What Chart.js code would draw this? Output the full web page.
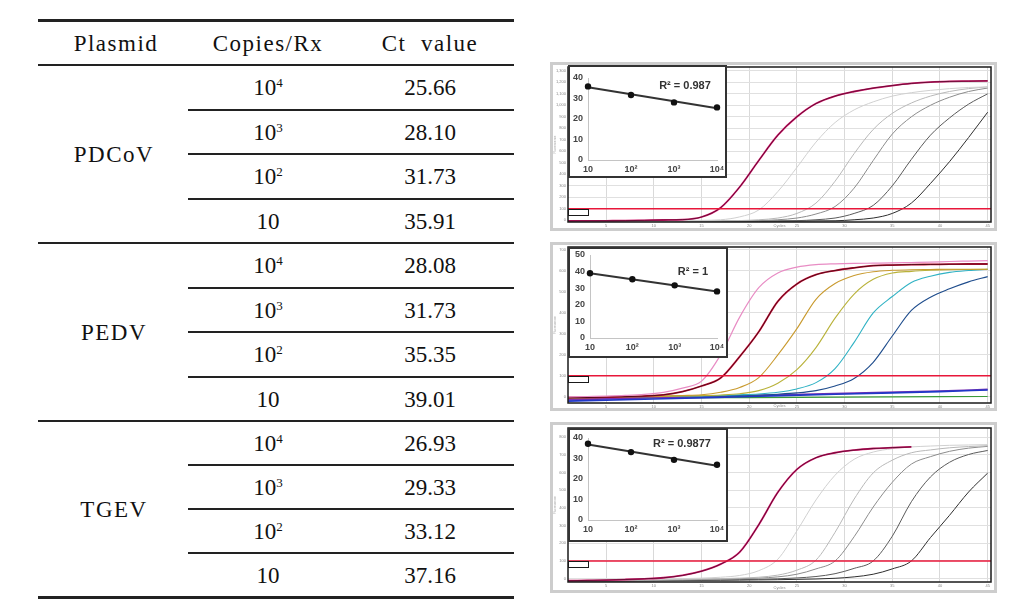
<!DOCTYPE html>
<html>
<head>
<meta charset="utf-8">
<script src="https://cdn.jsdelivr.net/npm/chart.js@4.4.1/dist/chart.umd.min.js"></script>
<style>
  body { margin: 0; background: #fff; width: 1029px; height: 609px; position: relative; overflow: hidden; font-family: 'Liberation Serif', serif; }
  .rule { position: absolute; background: #222; }
  .cell { position: absolute; font-size: 23px; color: #111; transform: translate(-50%, -50%); white-space: nowrap; line-height: 1; }
  .word { letter-spacing: 1.5px; }
  .cell .sup { font-size: 13px; vertical-align: top; line-height: 1; }
  .frame { position: absolute; border: 3px solid #cdcdcd; background: #fff; box-sizing: border-box; }
  .inset { position: absolute; border: 2px solid #333; background: #fff; box-sizing: border-box; }
  .r2 { position: absolute; font: bold 11px 'Liberation Sans', Arial, sans-serif; color: #333; white-space: nowrap; transform: translate(-50%, -50%); }
  canvas { position: absolute; left: 0; top: 0; }
</style>
</head>
<body>
<script>
// ---- table data ----
const plasmids = ['PDCoV', 'PEDV', 'TGEV'];
const copyExp  = ['4', '3', '2', ''];          // 10^4, 10^3, 10^2, 10
const ctPDCoV  = [25.66, 28.10, 31.73, 35.91];
const ctPEDV   = [28.08, 31.73, 35.35, 39.01];
const ctTGEV   = [26.93, 29.33, 33.12, 37.16];
const r2Labels = ['R\u00b2 = 0.987', 'R\u00b2 = 1', 'R\u00b2 = 0.9877'];

// ---- amplification curves (fluorescence read at every 2nd cycle) ----
const CYCLES = [1,3,5,7,9,11,13,15,17,19,21,23,25,27,29,31,33,35,37,39,41,43,45];
const X_TICKS = [5,10,15,20,25,30,35,40,45];

const p1a = [-6,-5,-4,-3,0,3,6,29,110,290,520,740,900,1015,1080,1120,1150,1172,1190,1202,1208,1210,1212];
const p1b = [-8,-8,-7,-6,-5,-4,-2,0,5,30,90,250,460,680,850,960,1030,1080,1110,1130,1145,1155,1160];
const p1c = [-10,-10,-9,-9,-8,-7,-6,-5,-4,-2,5,20,60,150,340,580,790,930,1020,1080,1120,1145,1160];
const p1d = [-12,-12,-11,-11,-10,-9,-8,-7,-6,-5,-3,5,20,55,120,280,520,750,900,1000,1070,1120,1150];
const p1e = [-14,-14,-13,-13,-12,-12,-11,-10,-9,-8,-6,-5,-3,5,20,60,130,300,530,740,890,1010,1100];
const p1f = [-15,-15,-15,-14,-14,-13,-13,-12,-11,-10,-9,-8,-7,-5,-4,5,20,60,150,320,510,720,940];

const p2a = [0,2,4,7,12,22,42,75,200,380,520,590,618,630,634,636,637,638,640,642,645,647,649];
const p2b = [-4,-3,-1,1,4,10,25,52,90,192,310,455,538,582,602,615,625,628,630,631,632,633,633];
const p2c = [-2,-1,0,2,3,5,7,10,22,45,92,200,325,465,540,578,596,603,606,607,608,608,608];
const p2d = [-3,-2,-1,0,1,2,4,6,9,15,30,65,130,235,375,490,560,590,598,603,606,607,608];
const p2e = [-2,-1,0,1,2,3,4,5,7,10,14,22,38,68,135,260,400,478,545,575,593,602,608];
const p2f = [-3,-2,-1,0,1,2,3,4,5,7,9,13,19,30,52,88,165,290,412,475,515,548,573];
const NTC_CYCLES = [1,10,20,30,40,45];
const ntcPurple = [-14,-4,6,17,28,36];
const ntcBlue   = [-20,-10,2,14,25,33];
const ntcGreen  = [-6,-5,-3,-1,1,2];

const p3a = [-12,-10,-8,-5,-1,5,18,42,82,150,305,488,618,684,712,727,736,741,745,null,null,null,null];
const p3b = [-10,-9,-8,-6,-4,-2,0,3,8,18,45,110,270,445,585,675,716,735,745,750,754,756,758];
const p3c = [-12,-11,-10,-9,-8,-6,-4,-2,0,3,8,20,48,105,262,450,598,670,712,728,740,747,752];
const p3d = [-14,-13,-12,-11,-10,-9,-7,-5,-3,0,3,10,25,55,100,237,405,545,648,690,720,738,748];
const p3e = [-14,-14,-13,-13,-12,-11,-10,-9,-8,-6,-4,-1,4,12,28,58,100,240,435,575,658,702,725];
const p3f = [-15,-15,-14,-14,-13,-12,-11,-10,-9,-8,-7,-6,-4,-2,2,10,25,55,100,232,358,490,597];

const thresholds = [101, 101, 100];
const yTicks1 = [0,100,200,300,400,500,600,700,800,900,1000,1100,1200,1300];
const yTicks2 = [0,100,200,300,400,500,600,700];
const yTicks3 = [0,100,200,300,400,500,600,700,800];

// ---- standard curve inset ----
const insetX = [1, 2, 3, 4];
const insetLabels = ['10', '10\u00b2', '10\u00b3', '10\u2074'];

// ---------------- table ----------------
function rule(l, t, w, h) {
  const d = document.createElement('div');
  d.className = 'rule';
  Object.assign(d.style, { left: l + 'px', top: t + 'px', width: w + 'px', height: h + 'px' });
  document.body.appendChild(d);
}
function cell(html, x, y, cls) {
  const d = document.createElement('div');
  d.className = 'cell' + (cls ? ' ' + cls : '');
  d.innerHTML = html;
  d.style.left = x + 'px'; d.style.top = y + 'px';
  document.body.appendChild(d);
}

const TL = 38, TR = 514, colP = 116, colC = 268, colV = 430;
rule(TL, 19, TR - TL, 3);
cell('Plasmid', colP, 43, 'word');
cell('Copies/Rx', colC, 43, 'word');
cell('Ct&nbsp;&nbsp;value', colV, 43, 'word');
rule(TL, 64, TR - TL, 2);

const groupTops = [65, 243, 421];
const rowH = [44.5, 44.5, 44];
const ctGroups = [ctPDCoV, ctPEDV, ctTGEV];
plasmids.forEach((name, g) => {
  const top = groupTops[g], h = rowH[g];
  cell(name, colP - 2, top + 2 * h, 'word');
  copyExp.forEach((e, r) => {
    const cy = top + h * (r + 0.5);
    cell('10' + (e ? '<span class="sup">' + e + '</span>' : ''), colC, cy);
    cell(ctGroups[g][r].toFixed(2), colV, cy);
    if (r > 0) rule(188, Math.round(top + h * r) - 1, TR - 188, 2);
  });
  if (g < 2) rule(TL, groupTops[g + 1] - 1, TR - TL, 2);
});
rule(TL, 596, TR - TL, 3);

// ---------------- charts ----------------
const framePlugin = {
  id: 'frame',
  afterDraw(chart, args, o) {
    const { ctx, chartArea: a } = chart;
    ctx.save();
    ctx.strokeStyle = '#1a1a1a';
    ctx.lineWidth = 1.5;
    ctx.strokeRect(a.left, a.top, a.right - a.left, a.bottom - a.top);
    const y = Math.round(chart.scales.y.getPixelForValue(o.threshold));
    ctx.lineWidth = 1;
    ctx.fillStyle = '#fff';
    ctx.fillRect(a.left + 1, y + 1, 19, 5);
    ctx.strokeRect(a.left + 0.5, y + 0.5, 20, 6);
    ctx.restore();
  }
};

function curve(xs, ys, color, width) {
  return {
    data: xs.map((x, i) => ({ x: x, y: ys[i] })),
    borderColor: color, borderWidth: width || 1,
    pointRadius: 0, fill: false, cubicInterpolationMode: 'monotone'
  };
}

function panel(p) {
  const fr = document.createElement('div');
  fr.className = 'frame';
  Object.assign(fr.style, { left: '550px', top: p.top + 'px', width: '447px', height: p.h + 'px' });
  const cv = document.createElement('canvas');
  cv.width = 441; cv.height = p.h - 6;
  cv.style.width = '441px'; cv.style.height = (p.h - 6) + 'px';
  fr.appendChild(cv);
  document.body.appendChild(fr);

  // drawn bottom-to-top
  const layers = p.curves.slice();
  layers.push(curve([1, 45.35], [p.thr, p.thr], '#e8173a', 1.6));
  const datasets = layers.reverse();

  new Chart(cv, {
    type: 'line',
    data: { datasets: datasets },
    options: {
      responsive: false, animation: false, devicePixelRatio: 1,
      layout: { padding: { top: p.padTop, right: 3, left: 0, bottom: 0 } },
      plugins: { legend: { display: false }, tooltip: { enabled: false }, frame: { threshold: p.thr } },
      scales: {
        x: {
          type: 'linear', min: 1, max: 45.35,
          afterBuildTicks: s => { s.ticks = X_TICKS.map(v => ({ value: v })); },
          afterFit: s => { s.height = p.xh; s.paddingLeft = 0; s.paddingRight = 0; },
          grid: { color: '#d9d9d9', lineWidth: 1, drawTicks: false },
          border: { display: false },
          ticks: { font: { size: 4, family: 'Liberation Sans' }, color: '#888', padding: 1, maxRotation: 0, autoSkip: false },
          title: { display: true, text: 'Cycles', font: { size: 4, family: 'Liberation Sans' }, color: '#888', padding: 0 }
        },
        y: {
          min: p.ymin, max: p.ymax,
          afterBuildTicks: s => { s.ticks = p.yt.map(v => ({ value: v })); },
          afterFit: s => { s.width = 15; s.paddingTop = 0; s.paddingBottom = 0; },
          grid: { color: '#e0e0e0', lineWidth: 1, drawTicks: false },
          border: { display: false },
          ticks: { font: { size: 4, family: 'Liberation Sans' }, color: '#888', padding: 2, autoSkip: false },
          title: { display: true, text: 'Fluorescence', font: { size: 3, family: 'Liberation Sans' }, color: '#aaa', padding: 0 }
        }
      }
    },
    plugins: [framePlugin]
  });
}

function fitLine(xs, ys) {
  const n = xs.length;
  const mx = xs.reduce((a, b) => a + b) / n, my = ys.reduce((a, b) => a + b) / n;
  let sxy = 0, sxx = 0;
  xs.forEach((x, i) => { sxy += (x - mx) * (ys[i] - my); sxx += (x - mx) * (x - mx); });
  const b = sxy / sxx, a = my - b * mx;
  return [{ x: xs[0], y: a + b * xs[0] }, { x: xs[n - 1], y: a + b * xs[n - 1] }];
}

function inset(s) {
  const box = document.createElement('div');
  box.className = 'inset';
  Object.assign(box.style, { left: '568px', top: s.top + 'px', width: s.w + 'px', height: s.h + 'px' });
  const cv = document.createElement('canvas');
  const iw = s.w - 4, ih = s.h - 4;
  cv.width = iw; cv.height = ih;
  cv.style.width = iw + 'px'; cv.style.height = ih + 'px';
  box.appendChild(cv);
  document.body.appendChild(box);

  const ys = s.ct.slice().reverse();   // 10 .. 10^4
  const tickFont = { size: 9, family: 'Liberation Sans', weight: 'bold' };
  new Chart(cv, {
    type: 'scatter',
    data: {
      datasets: [
        { data: insetX.map((x, i) => ({ x: x, y: ys[i] })), backgroundColor: '#111', borderWidth: 0, pointRadius: 3.2, clip: false },
        { type: 'line', data: fitLine(insetX, ys), borderColor: '#333', borderWidth: 2, pointRadius: 0, clip: false }
      ]
    },
    options: {
      responsive: false, animation: false, devicePixelRatio: 1,
      layout: { padding: { top: s.padTop, right: s.padRight, left: 0, bottom: 0 } },
      plugins: { legend: { display: false }, tooltip: { enabled: false } },
      scales: {
        x: {
          type: 'linear', min: 1, max: 4,
          afterBuildTicks: sc => { sc.ticks = insetX.map(v => ({ value: v })); },
          afterFit: sc => { sc.height = s.xh; sc.paddingLeft = 0; sc.paddingRight = 0; },
          grid: { display: false, drawTicks: false },
          border: { color: '#c4c4c4', width: 1 },
          ticks: { callback: (v, i) => insetLabels[i], font: tickFont, color: '#444', padding: 4, maxRotation: 0, autoSkip: false }
        },
        y: {
          min: 0, max: s.ymax,
          ticks: { stepSize: 10, font: tickFont, color: '#444', padding: 5 },
          afterFit: sc => { sc.width = s.yw; sc.paddingTop = 0; sc.paddingBottom = 0; },
          grid: { display: false, drawTicks: false },
          border: { color: '#c4c4c4', width: 1 }
        }
      }
    }
  });

  const t = document.createElement('div');
  t.className = 'r2';
  t.textContent = s.r2;
  t.style.left = s.r2x + 'px'; t.style.top = s.r2y + 'px';
  document.body.appendChild(t);
}

const grayCurves = (a, b, c, d, e, f) => [
  curve(CYCLES, f, '#2e2e2e'),
  curve(CYCLES, e, '#5a5a5a'),
  curve(CYCLES, d, '#8c8c8c'),
  curve(CYCLES, c, '#b8b8b8'),
  curve(CYCLES, b, '#d0d0d0'),
  curve(CYCLES, a, '#d4146a', 1.8),
  curve(CYCLES, a, '#3a0a1e', 0.7)
];

panel({ top: 62, h: 169, padTop: 2, xh: 6, ymin: -14.5, ymax: 1333, yt: yTicks1, thr: thresholds[0],
        curves: grayCurves(p1a, p1b, p1c, p1d, p1e, p1f) });

panel({ top: 242, h: 169, padTop: 2, xh: 5, ymin: -29, ymax: 714, yt: yTicks2, thr: thresholds[1],
        curves: [
          curve(NTC_CYCLES, ntcGreen, '#3a9a3a', 1.2),
          curve(NTC_CYCLES, ntcPurple, '#7a2fb0', 1.6),
          curve(NTC_CYCLES, ntcBlue, '#2038c8', 1.6),
          curve(CYCLES, p2f, '#1e4c8c', 1.1),
          curve(CYCLES, p2e, '#2fb2c4', 1.1),
          curve(CYCLES, p2d, '#b9b23a', 1.1),
          curve(CYCLES, p2c, '#c99a2e', 1.1),
          curve(CYCLES, p2b, '#d0103a', 1.8),
          curve(CYCLES, p2b, '#1a0a0a', 0.7),
          curve(CYCLES, p2a, '#e88cc4', 1.2)
        ] });

panel({ top: 422, h: 171, padTop: 3, xh: 8, ymin: -19, ymax: 852, yt: yTicks3, thr: thresholds[2],
        curves: grayCurves(p3a, p3b, p3c, p3d, p3e, p3f) });

inset({ top: 65, w: 159, h: 113, yw: 18, xh: 16, padTop: 11, padRight: 8, ymax: 40, ct: ctPDCoV, r2: r2Labels[0], r2x: 685, r2y: 85 });
inset({ top: 247, w: 160, h: 111, yw: 20, xh: 18, padTop: 6, padRight: 9, ymax: 50, ct: ctPEDV, r2: r2Labels[1], r2x: 693, r2y: 271 });
inset({ top: 428, w: 160, h: 114, yw: 18, xh: 20, padTop: 8, padRight: 9, ymax: 40, ct: ctTGEV, r2: r2Labels[2], r2x: 682, r2y: 443 });
</script>
</body>
</html>
